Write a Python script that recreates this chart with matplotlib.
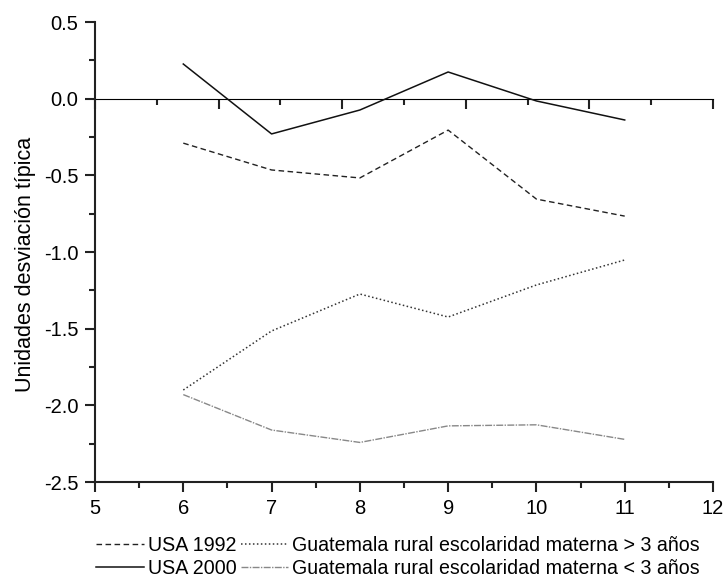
import matplotlib
matplotlib.use("Agg")
import matplotlib.pyplot as plt
from matplotlib.ticker import MultipleLocator, FixedLocator, NullFormatter

plt.rcParams['font.family'] = ['Liberation Sans', 'DejaVu Sans']
plt.rcParams['axes.unicode_minus'] = False

edad = [6, 7, 8, 9, 10, 11]
usa_1992 = [-0.29, -0.465, -0.517, -0.205, -0.655, -0.766]
usa_2000 = [0.226, -0.23, -0.074, 0.174, -0.015, -0.139]
guat_mas3 = [-1.90, -1.515, -1.274, -1.424, -1.215, -1.052]
guat_menos3 = [-1.93, -2.161, -2.242, -2.134, -2.127, -2.222]

labels = ["USA 1992", "USA 2000",
          "Guatemala rural escolaridad materna > 3 años",
          "Guatemala rural escolaridad materna < 3 años"]

fig = plt.figure(figsize=(7.24, 5.77), dpi=100)
ax = fig.add_axes([95/724, 1-482/577, (713-95)/724, (482-22)/577])

l1, = ax.plot(edad, usa_1992, color='#222222', lw=1.0, ls=(0, (4, 2.5)))
l2, = ax.plot(edad, usa_2000, color='#111111', lw=1.1, ls='-')
l3, = ax.plot(edad, guat_mas3, color='#333333', lw=1.1, ls=(0, (1, 1.6)))
l4, = ax.plot(edad, guat_menos3, color='#888888', lw=1.0, ls=(0, (5, 1, 1, 1)))

ax.set_xlim(5, 12)
ax.set_ylim(-2.5, 0.5)
ax.xaxis.set_major_locator(MultipleLocator(1))
ax.xaxis.set_minor_locator(MultipleLocator(0.5))
ax.yaxis.set_major_locator(MultipleLocator(0.5))
ax.yaxis.set_minor_locator(MultipleLocator(0.25))
ax.yaxis.set_major_formatter(matplotlib.ticker.FormatStrFormatter('%.1f'))
for s in ['top', 'right']:
    ax.spines[s].set_visible(False)
for s in ['left', 'bottom']:
    ax.spines[s].set_linewidth(1.5)
    ax.spines[s].set_color('#222222')
ax.tick_params(which='major', length=7, width=1.5, color='#222222', labelsize=14.5, pad=5)
ax.tick_params(which='minor', length=4, width=1.5, color='#222222')

# secondary axis at y = 0
frac = (0 - (-2.5)) / 3.0
sec = ax.secondary_xaxis(frac)
sec.spines['bottom'].set_linewidth(1.5)
sec.spines['bottom'].set_color('#222222')
sec.xaxis.set_ticks_position('bottom')
sec.xaxis.set_major_locator(FixedLocator([5 + 1.4 * k for k in range(6)]))
sec.xaxis.set_minor_locator(FixedLocator([5.7 + 1.4 * k for k in range(5)]))
sec.xaxis.set_major_formatter(NullFormatter())
sec.tick_params(which='major', direction='out', length=7, width=1.5, color='#222222')
sec.tick_params(which='minor', direction='out', length=4, width=1.5, color='#222222')

ax.set_ylabel("Unidades desviación típica", fontsize=15.5, labelpad=6)
ax.yaxis.label.set_y(0.472)

fig.legend([l1, l2, l3, l4], labels, ncol=2, loc='center',
           bbox_to_anchor=(398/724, 1-557/577), frameon=False,
           fontsize=14.1, handlelength=2.45, handletextpad=0.2,
           columnspacing=0.2, labelspacing=0.2)

fig.savefig("out.png", dpi=100)
